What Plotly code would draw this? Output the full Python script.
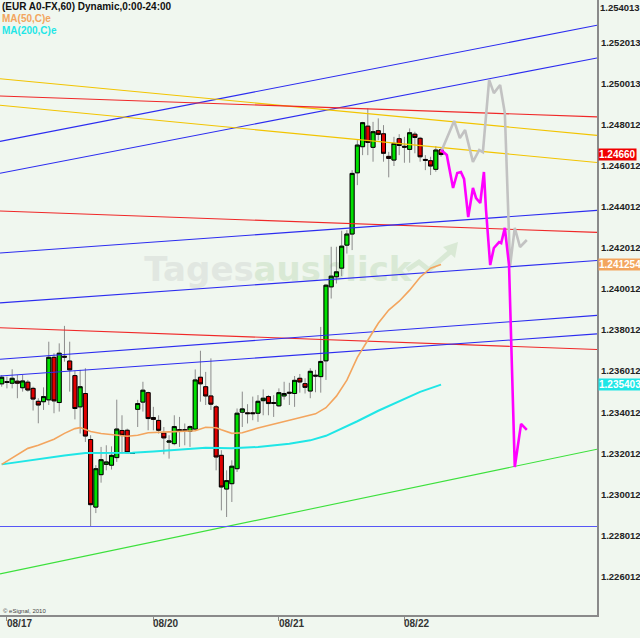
import plotly.graph_objects as go

# ---------------- data ----------------
bar_index = list(range(85))
opens = [1.23544,1.23555,1.23547,1.23557,1.23525,1.23552,1.23522,1.23459,1.23457,1.23466,
         1.23673,1.23453,1.23678,1.23655,1.23584,1.23432,1.23497,1.23273,1.22944,1.23102,
         1.23152,1.23148,1.23185,1.23317,1.23318,1.23209,1.23420,1.23455,1.23501,1.23380,
         1.23366,1.23305,1.23260,1.23253,1.23321,1.23321,1.23313,1.23324,1.23576,1.23530,
         1.23485,1.23432,1.23196,1.23032,1.23058,1.23131,1.23406,1.23403,1.23403,1.23401,
         1.23462,1.23482,1.23453,1.23437,1.23485,1.23503,1.23497,1.23571,1.23545,1.23509,
         1.23586,1.23579,1.23656,1.24016,1.24065,1.24107,1.24219,1.24273,1.24571,1.24698,
         1.24798,1.24695,1.24776,1.24761,1.24651,1.24633,1.24737,1.24700,1.24685,1.24759,
         1.24739,1.24636,1.24630,1.24588,1.24683]
highs = [1.23587,1.23579,1.23615,1.23587,1.23587,1.23563,1.23530,1.23474,1.23527,1.23749,
         1.23693,1.23741,1.23826,1.23749,1.23608,1.23612,1.23620,1.23294,1.23148,1.23237,
         1.23245,1.23240,1.23467,1.23391,1.23326,1.23210,1.23466,1.23554,1.23506,1.23432,
         1.23391,1.23334,1.23294,1.23391,1.23383,1.23351,1.23342,1.23614,1.23705,1.23602,
         1.23668,1.23441,1.23221,1.23123,1.23172,1.23424,1.23506,1.23445,1.23482,1.23489,
         1.23517,1.23489,1.23489,1.23522,1.23554,1.23549,1.23582,1.23592,1.23571,1.23620,
         1.23612,1.23821,1.24030,1.24211,1.24211,1.24289,1.24292,1.24584,1.24730,1.24819,
         1.24885,1.24819,1.24836,1.24803,1.24673,1.24746,1.24759,1.24746,1.24787,1.24771,
         1.24746,1.24657,1.24649,1.24701,1.24696]
lows = [1.23530,1.23522,1.23522,1.23474,1.23506,1.23506,1.23414,1.23352,1.23417,1.23441,
        1.23401,1.23409,1.23652,1.23506,1.23371,1.23302,1.23261,1.22850,1.22915,1.23063,
        1.23123,1.23127,1.23164,1.23205,1.23209,1.23204,1.23334,1.23409,1.23318,1.23318,
        1.23302,1.23201,1.23180,1.23245,1.23237,1.23245,1.23237,1.23318,1.23457,1.23441,
        1.23417,1.23123,1.22928,1.22896,1.22969,1.23115,1.23334,1.23351,1.23367,1.23359,
        1.23391,1.23391,1.23383,1.23432,1.23467,1.23441,1.23432,1.23501,1.23497,1.23474,
        1.23503,1.23501,1.23563,1.23959,1.24032,1.24068,1.24178,1.24195,1.24511,1.24657,
        1.24657,1.24625,1.24730,1.24625,1.24549,1.24604,1.24657,1.24620,1.24620,1.24666,
        1.24625,1.24584,1.24560,1.24576,1.24650]
closes = [1.23576,1.23551,1.23571,1.23547,1.23558,1.23514,1.23470,1.23441,1.23482,1.23673,
          1.23461,1.23693,1.23674,1.23612,1.23424,1.23530,1.23290,1.22956,1.23131,1.23175,
          1.23164,1.23196,1.23324,1.23294,1.23209,1.23205,1.23448,1.23513,1.23375,1.23371,
          1.23318,1.23281,1.23266,1.23336,1.23317,1.23317,1.23336,1.23563,1.23544,1.23485,
          1.23445,1.23188,1.23042,1.23073,1.23143,1.23401,1.23422,1.23399,1.23399,1.23459,
          1.23474,1.23448,1.23449,1.23501,1.23497,1.23499,1.23561,1.23553,1.23527,1.23605,
          1.23582,1.23653,1.24024,1.24068,1.24089,1.24214,1.24273,1.24568,1.24706,1.24815,
          1.24719,1.24771,1.24758,1.24666,1.24641,1.24714,1.24704,1.24696,1.24766,1.24743,
          1.24649,1.24632,1.24604,1.24682,1.24660]

ma50_idx = [0,2,5,7,10,12,14,15,16,17,19,22,24,26,28,32,37,39,41,42,44,46,49,55,60,62,64,66,68,70,72,74,76,78,80,82,84]
ma50_val = [1.23152,1.23184,1.23230,1.23245,1.23274,1.23303,1.23326,1.23331,1.23323,1.23312,1.23302,
            1.23294,1.23289,1.23294,1.23306,1.23310,1.23316,1.23333,1.23330,1.23320,1.23303,1.23306,
            1.23329,1.23367,1.23398,1.23428,1.23484,1.23562,1.23673,1.23756,1.23839,1.23903,1.23946,
            1.24000,1.24063,1.24107,1.24125]
ma200_idx = [0,6,12,16,21,25,29,34,39,44,49,55,59,62,65,68,72,76,80,84]
ma200_val = [1.23152,1.23175,1.23195,1.23207,1.23208,1.23209,1.23215,1.23224,1.23233,1.23230,
             1.23237,1.23252,1.23269,1.23291,1.23325,1.23362,1.23413,1.23461,1.23505,1.23540]

gray_x = [84.0,85.1,86.5,87.6,88.6,90.1,91.3,92.0,93.2,94.1,95.3,96.2,97.2,98.1,99.1,100.4]
gray_y = [1.24672,1.24740,1.24823,1.24740,1.24779,1.24624,1.24682,1.24672,1.25023,1.24959,
          1.24998,1.24862,1.24118,1.24303,1.24210,1.24244]
magenta_x = [84.0,85.1,86.3,87.1,87.8,88.4,89.2,90.1,90.7,91.5,92.2,92.6,93.4,94.1,95.1,95.5,
             96.2,97.0,98.1,99.3,100.4]
magenta_y = [1.24682,1.24658,1.24497,1.24570,1.24575,1.24541,1.24356,1.24497,1.24448,1.24424,
             1.24575,1.24390,1.24122,1.24205,1.24234,1.24229,1.24303,1.24122,1.23139,1.23349,1.23320]

# trend lines: price at left edge and at right edge of the chart
trend_left  = [1.24724,1.24569,1.25029,1.24900,1.24945,1.24385,1.24181,1.23938,1.23817,1.23664,1.23582,1.22619,1.22850]
trend_right = [1.25289,1.25130,1.24753,1.24621,1.24843,1.24281,1.24388,1.24144,1.23711,1.23877,1.23787,1.23226,1.22850]
trend_kind  = ["blue","blue","yellow","yellow","red","red","blue","blue","red","blue","blue","green","hblue"]

x_tick_pos = [1, 29, 53, 77]
x_tick_text = ["08/17", "08/20", "08/21", "08/22"]
y_tick_vals = [1.254013,1.252013,1.250013,1.248012,1.246012,1.244012,1.242012,1.240012,
               1.238012,1.236012,1.234012,1.232012,1.230012,1.228012,1.226012]
y_tick_text = ["1.254013","1.252013","1.250013","1.248012","1.246012","1.244012","1.242012","1.240012",
               "1.238012","1.236012","1.234012","1.232012","1.230012","1.228012","1.226012"]
last_labels = ["1.24660", "1.241254", "1.235403"]

# ---------------- styles ----------------
BG = "#f0f7ef"
x_lo, x_hi = -0.325, 113.82
y_lo, y_hi = 1.22419, 1.25412
kind_color = {"blue": "#2c2cf0", "yellow": "#f2c400", "red": "#f02828",
              "green": "#3ce03c", "hblue": "#5656f6"}
FONT = "Liberation Sans"
TICKFONT = dict(family=FONT, size=9.5, color="#222222", weight="bold")

fig = go.Figure()

for l, r, k in zip(trend_left, trend_right, trend_kind):
    fig.add_trace(go.Scatter(x=[x_lo, x_hi], y=[l, r], mode="lines",
                             line=dict(color=kind_color[k], width=1.1),
                             hoverinfo="skip", showlegend=False))

fig.add_trace(go.Scatter(x=ma200_idx, y=ma200_val, mode="lines",
                         line=dict(color="#1fe6e6", width=2), hoverinfo="skip", showlegend=False))
fig.add_trace(go.Scatter(x=ma50_idx, y=ma50_val, mode="lines",
                         line=dict(color="#f3a55e", width=1.6), hoverinfo="skip", showlegend=False))

# wicks (gray)
fig.add_trace(go.Candlestick(x=bar_index, open=opens, high=highs, low=lows, close=closes,
                             increasing=dict(line=dict(color="#8c8c8c", width=1), fillcolor="#8c8c8c"),
                             decreasing=dict(line=dict(color="#8c8c8c", width=1), fillcolor="#8c8c8c"),
                             whiskerwidth=0, hoverinfo="skip", showlegend=False))
# bodies (black outline)
body_hi = [max(o, c) for o, c in zip(opens, closes)]
body_lo = [min(o, c) for o, c in zip(opens, closes)]
fig.add_trace(go.Candlestick(x=bar_index, open=opens, high=body_hi, low=body_lo, close=closes,
                             increasing=dict(line=dict(color="#000000", width=1), fillcolor="#00e000"),
                             decreasing=dict(line=dict(color="#000000", width=1), fillcolor="#e00000"),
                             whiskerwidth=0, hoverinfo="skip", showlegend=False))

fig.add_trace(go.Scatter(x=gray_x, y=gray_y, mode="lines",
                         line=dict(color="#c2c2c2", width=2.6), hoverinfo="skip", showlegend=False))
fig.add_trace(go.Scatter(x=magenta_x, y=magenta_y, mode="lines",
                         line=dict(color="#ff00ff", width=2.6), hoverinfo="skip", showlegend=False))

W, H = 640, 638
ML, MR, MT, MB = 0, 43, 0, 23
pw, ph = W - ML - MR, H - MT - MB


def px(x):
    return x / pw


def py(y):
    return 1 - y / ph


WM = "DejaVu Sans"
shapes = [
    dict(type="rect", xref="paper", yref="paper", x0=px(142), x1=px(256), y0=py(292), y1=py(242),
         line=dict(width=0), layer="below",
         label=dict(text="Tages", font=dict(family=WM, size=34, color="#e1e7e1", weight="bold"),
                    textposition="middle center")),
    dict(type="rect", xref="paper", yref="paper", x0=px(256), x1=px(409), y0=py(292), y1=py(242),
         line=dict(width=0), layer="below",
         label=dict(text="ausblick", font=dict(family=WM, size=34, color="#d9e9d5", weight="bold"),
                    textposition="middle center")),
    dict(type="path", xref="paper", yref="paper", layer="below",
         path=f"M {px(407)},{py(270)} L {px(419)},{py(262)} L {px(429)},{py(270)} L {px(450)},{py(252)}",
         line=dict(color="#d9e9d5", width=5)),
    dict(type="path", xref="paper", yref="paper", layer="below",
         path=f"M {px(443)},{py(247)} L {px(458)},{py(242)} L {px(455)},{py(258)} Z",
         fillcolor="#d9e9d5", line=dict(width=0)),
]

annotations = [
    dict(xref="paper", yref="paper", x=0, y=1, xanchor="left", yanchor="top", xshift=0, yshift=1,
         text="(EUR A0-FX,60) Dynamic,0:00-24:00", showarrow=False,
         font=dict(family=FONT, size=10, color="#111111", weight="bold")),
    dict(xref="paper", yref="paper", x=0, y=1, xanchor="left", yanchor="top", yshift=-11,
         text="MA(50,C)e", showarrow=False,
         font=dict(family=FONT, size=10, color="#f3a55e", weight="bold")),
    dict(xref="paper", yref="paper", x=0, y=1, xanchor="left", yanchor="top", yshift=-23,
         text="MA(200,C)e", showarrow=False,
         font=dict(family=FONT, size=10, color="#1fe6e6", weight="bold")),
    dict(xref="paper", yref="paper", x=0, y=0, xanchor="left", yanchor="bottom", xshift=1, yshift=-1,
         text="© eSignal, 2010", showarrow=False,
         font=dict(family=FONT, size=6, color="#444444")),
    # topmost price label sits clamped at the top edge, as in the original
    dict(xref="paper", yref="paper", x=1, y=1, xanchor="left", yanchor="top", xshift=1, yshift=0,
         text=y_tick_text[0], showarrow=False, font=TICKFONT),
]
for pos, txt in zip(x_tick_pos, x_tick_text):
    annotations.append(dict(xref="x", yref="paper", x=pos, y=0, xanchor="left", yanchor="top",
                            xshift=-2, yshift=-1, text=txt, showarrow=False,
                            font=dict(family=FONT, size=10, color="#333333", weight="bold")))
for val, txt, col in zip([closes[-1], ma50_val[-1], ma200_val[-1]], last_labels,
                         ["#f00000", "#f3a55e", "#1fe6e6"]):
    annotations.append(dict(xref="paper", yref="y", x=1, y=val, xanchor="left", yanchor="middle",
                            xshift=1, text=txt, showarrow=False, bgcolor=col, borderpad=0,
                            font=dict(family=FONT, size=10, color="#ffffff", weight="bold")))

fig.update_layout(
    width=W, height=H, margin=dict(l=ML, r=MR, t=MT, b=MB, autoexpand=False),
    paper_bgcolor=BG, plot_bgcolor="rgba(0,0,0,0)",
    showlegend=False, hovermode=False,
    boxgap=0.23, boxgroupgap=0,
    shapes=shapes, annotations=annotations,
    xaxis=dict(range=[x_lo, x_hi], showgrid=False, zeroline=False, showline=True,
               linecolor="#8a8a8a", linewidth=2, ticks="outside", ticklen=4, tickcolor="#8a8a8a",
               tickvals=x_tick_pos, ticktext=x_tick_text, showticklabels=False,
               rangeslider=dict(visible=False), fixedrange=True, automargin=False),
    yaxis=dict(range=[y_lo, y_hi], side="right", showgrid=False, zeroline=False, showline=True,
               linecolor="#8a8a8a", linewidth=2, ticks="",
               tickvals=y_tick_vals[1:], ticktext=y_tick_text[1:],
               ticklabelshift=-1, ticklabeloverflow="allow",
               tickfont=TICKFONT, fixedrange=True, automargin=False),
)

fig.write_html("out.html", config={"displayModeBar": False},
               post_script="document.body.style.margin='0';document.body.style.padding='0';"
                           "document.body.style.overflow='hidden';"
                           "document.body.style.background='" + BG + "';")
